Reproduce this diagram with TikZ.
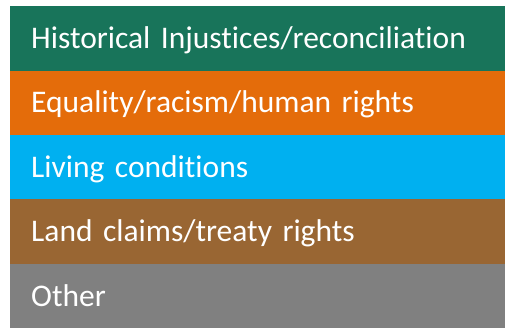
\documentclass[tikz,border=0pt]{standalone}
\usepackage{fontspec}
\setmainfont[Ligatures=CommonOff]{Carlito}
\definecolor{cgreen}{HTML}{18745A}
\definecolor{corange}{HTML}{E46C0A}
\definecolor{cblue}{HTML}{00B0F0}
\definecolor{cbrown}{HTML}{996633}
\definecolor{cgray}{HTML}{808080}
\begin{document}
\begin{tikzpicture}[x=1pt,y=-1pt,
  band/.style={draw=none,minimum width=495pt,minimum height=64.4pt,inner sep=0pt,anchor=north west,
    text=white,font=\fontsize{31.5}{31.5}\selectfont,align=left,text width=453pt,
    text height=20pt,text depth=0pt},
]
\useasboundingbox[fill=white] (0,0) rectangle (513,333);
\node[band,fill=cgreen]  (b1) at (10,6)     {Historical Injustices/reconciliation};
\node[band,fill=corange] (b2) at (10,70.4)  {Equality/racism/human rights};
\node[band,fill=cblue]   (b3) at (10,134.8) {Living conditions};
\node[band,fill=cbrown]  (b4) at (10,199.2) {Land claims/treaty rights};
\node[band,fill=cgray]   (b5) at (10,263.6) {Other};
\end{tikzpicture}
\end{document}
